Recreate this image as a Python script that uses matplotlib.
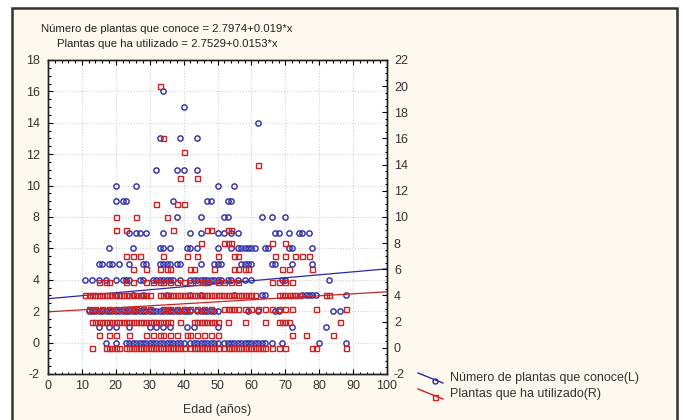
import matplotlib
matplotlib.use("Agg")
import matplotlib.pyplot as plt
from matplotlib.lines import Line2D
from matplotlib.patches import Rectangle
from matplotlib.ticker import MultipleLocator

plt.rcParams["font.family"] = ["Liberation Sans", "DejaVu Sans"]
plt.rcParams["axes.unicode_minus"] = False

# ages (x) observed at each count, left axis series (circles)
conoce_rows = {
    16: [34],
    15: [40],
    14: [62],
    13: [33, 39, 44],
    11: [32, 38, 40, 44],
    10: [20, 26, 50, 55],
    9: [20, 22, 23, 37, 47, 48, 53, 54],
    8: [38, 45, 52, 53, 63, 66, 70],
    7: [24, 26, 27, 29, 34, 42, 45, 50, 52, 54, 56, 67, 68, 71, 74, 75, 77],
    6: [18, 25, 33, 34, 36, 41, 42, 44, 50, 54, 56, 57, 58, 59, 60, 61, 64, 65, 71, 72, 78],
    5: [15, 16, 18, 19, 21, 24, 28, 29, 33, 34, 35, 36, 38, 39, 45, 49, 50, 51,
        57, 58, 59, 60, 66, 67, 72, 78],
    4: [11, 13, 15, 17, 20, 22, 23, 24, 27, 28, 31, 32, 33, 34, 35, 36, 37, 39,
        42, 43, 44, 45, 46, 47, 48, 49, 50, 51, 53, 54, 56, 58, 60, 69, 70, 83],
    3: [20, 25, 28, 35, 42, 45, 55, 63, 64, 75, 76, 77, 78, 79, 88],
    2: [12, 13, 14, 15, 16, 17, 18, 19, 20, 21, 22, 23, 24, 25, 26, 27, 28, 29,
        30, 31, 32, 33, 34, 35, 36, 37, 38, 39, 40, 41, 42, 44, 45, 46, 47, 48,
        49, 50, 59, 62, 67, 68, 84, 86],
    1: [15, 18, 20, 24, 30, 32, 34, 36, 41, 43, 50, 72, 82],
    0: [17, 20, 23, 24, 25, 26, 27, 28, 29, 30, 31, 32, 33, 34, 35, 36, 37, 38,
        39, 40, 42, 43, 44, 45, 46, 47, 48, 49, 50, 52, 53, 54, 55, 56, 57, 58,
        59, 60, 61, 62, 63, 64, 66, 69, 80, 88],
}

# right axis series (squares)
utilizado_rows = {
    20: [33],
    16: [34],
    15: [40],
    14: [62],
    13: [39, 44],
    11: [32, 38, 40],
    10: [20, 26, 35],
    9: [20, 23, 37, 47, 48, 53, 54],
    8: [45, 52, 53, 54, 66, 70],
    7: [23, 25, 27, 34, 41, 44, 50, 55, 56, 67, 70, 73, 75, 77],
    6: [25, 29, 33, 35, 36, 42, 43, 49, 55, 56, 58, 59, 69, 71, 78],
    5: [15, 17, 18, 23, 25, 29, 31, 33, 34, 36, 38, 40, 42, 44, 46, 47, 50, 52,
        54, 56, 66, 68, 70, 72],
    4: [11, 12, 13, 14, 15, 16, 17, 18, 19, 20, 21, 22, 23, 24, 25, 26, 27, 28,
        29, 30, 33, 34, 35, 36, 37, 38, 39, 40, 41, 42, 43, 44, 45, 46, 47, 48,
        49, 50, 51, 52, 53, 54, 55, 56, 57, 58, 59, 60, 61, 68, 69, 70, 71, 72,
        73, 74, 82, 83],
    3: [12, 14, 16, 18, 20, 22, 24, 25, 26, 28, 30, 34, 35, 36, 38, 40, 42, 44,
        46, 48, 52, 53, 54, 55, 56, 58, 60, 62, 64, 66, 68, 70, 72, 79, 88],
    2: [13, 14, 15, 16, 17, 18, 19, 20, 21, 22, 23, 24, 25, 26, 27, 28, 29, 30,
        31, 32, 33, 34, 35, 36, 39, 43, 44, 45, 46, 47, 48, 49, 50, 53, 58, 64,
        68, 69, 70, 71, 86],
    1: [15, 18, 20, 24, 29, 31, 33, 34, 36, 38, 41, 42, 44, 46, 48, 50, 72, 76, 84],
    0: [13, 17, 18, 19, 20, 21, 23, 24, 25, 26, 27, 28, 29, 30, 31, 32, 33, 34,
        35, 36, 37, 38, 39, 40, 42, 43, 44, 45, 46, 47, 48, 49, 50, 52, 53, 54,
        55, 56, 57, 58, 59, 60, 61, 62, 63, 64, 66, 68, 70, 78, 79, 88],
}

conoce_fit = (2.7974, 0.019)
utilizado_fit = (2.7529, 0.0153)
fit_x = [0, 100]

title_lines = [
    "Número de plantas que conoce = 2.7974+0.019*x",
    "Plantas que ha utilizado = 2.7529+0.0153*x",
]
legend_labels = ["Número de plantas que conoce(L)", "Plantas que ha utilizado(R)"]

BLUE = "#2a2aa6"
RED = "#cc2222"
BG = "#fef9ee"
TXT = "#333333"

W, H = 683, 420
fig = plt.figure(figsize=(W / 100, H / 100), dpi=100)
fig.patch.set_facecolor("white")
fig.add_artist(Rectangle((12 / W, -0.05), 665 / W, 1.05 - 8 / H, transform=fig.transFigure,
                         facecolor=BG, edgecolor="#333333", linewidth=1.8, zorder=-10))

ax = fig.add_axes([48 / W, 1 - 374 / H, 339 / W, 314 / H])
ax2 = ax.twinx()
ax.set_zorder(1)
ax2.set_zorder(2)
ax.set_facecolor("white")
ax2.patch.set_visible(False)

for level, ages in conoce_rows.items():
    ax.plot(ages, [level] * len(ages), linestyle="none", marker="o", markersize=3.8,
            markerfacecolor="none", markeredgecolor=BLUE, markeredgewidth=1.0)
for level, ages in utilizado_rows.items():
    ax2.plot(ages, [level] * len(ages), linestyle="none", marker="s", markersize=3.6,
             markerfacecolor="none", markeredgecolor=RED, markeredgewidth=1.0)

ax.plot(fit_x, [conoce_fit[0] + conoce_fit[1] * x for x in fit_x], color=BLUE, lw=0.9)
ax2.plot(fit_x, [utilizado_fit[0] + utilizado_fit[1] * x for x in fit_x], color=RED, lw=0.9)

ax.set_xlim(0, 100)
ax.set_ylim(-2, 18)
ax2.set_ylim(-2, 22)
ax.xaxis.set_major_locator(MultipleLocator(10))
ax.xaxis.set_minor_locator(MultipleLocator(2))
ax.yaxis.set_major_locator(MultipleLocator(2))
ax.yaxis.set_minor_locator(MultipleLocator(0.5))
ax2.yaxis.set_major_locator(MultipleLocator(2))
ax2.yaxis.set_minor_locator(MultipleLocator(0.5))

ax.grid(True, which="major", color="#d0d0d0", linestyle=":", linewidth=0.8)
for a in (ax, ax2):
    a.tick_params(which="both", direction="in", labelsize=9, labelcolor=TXT, width=0.8)
    a.tick_params(which="major", length=3.5)
    a.tick_params(which="minor", length=1.8)
    for s in a.spines.values():
        s.set_color("#222222")
        s.set_linewidth(1.0)
ax.tick_params(which="both", top=True)
ax.tick_params(axis="y", pad=6)
ax2.tick_params(axis="y", pad=5)
ax.tick_params(axis="x", pad=4)

ax.set_xlabel("Edad (años)", fontsize=9, color=TXT, labelpad=9)

fig.text(167 / W, 1 - 29 / H, title_lines[0], ha="center", va="center", fontsize=8.2, color="#222222")
fig.text(167 / W, 1 - 44 / H, title_lines[1], ha="center", va="center", fontsize=8.2, color="#222222")

# legend drawn by hand with slanted STATISTICA-style samples
for i, (lab, col, mk) in enumerate(zip(legend_labels, [BLUE, RED], ["o", "s"])):
    y0 = 373 + i * 16
    fig.add_artist(Line2D([418 / W, 443 / W], [1 - y0 / H, 1 - (y0 + 10) / H],
                          transform=fig.transFigure, color=col, lw=1.0))
    fig.add_artist(Line2D([435 / W], [1 - (y0 + 7.5) / H], transform=fig.transFigure,
                          linestyle="none", marker=mk, markersize=3.6, markerfacecolor="none",
                          markeredgecolor=col, markeredgewidth=1.0))
    fig.text(450 / W, 1 - (y0 + 5) / H, lab, ha="left", va="center", fontsize=9, color=TXT)

fig.savefig("out.png", dpi=100, facecolor=fig.get_facecolor())
